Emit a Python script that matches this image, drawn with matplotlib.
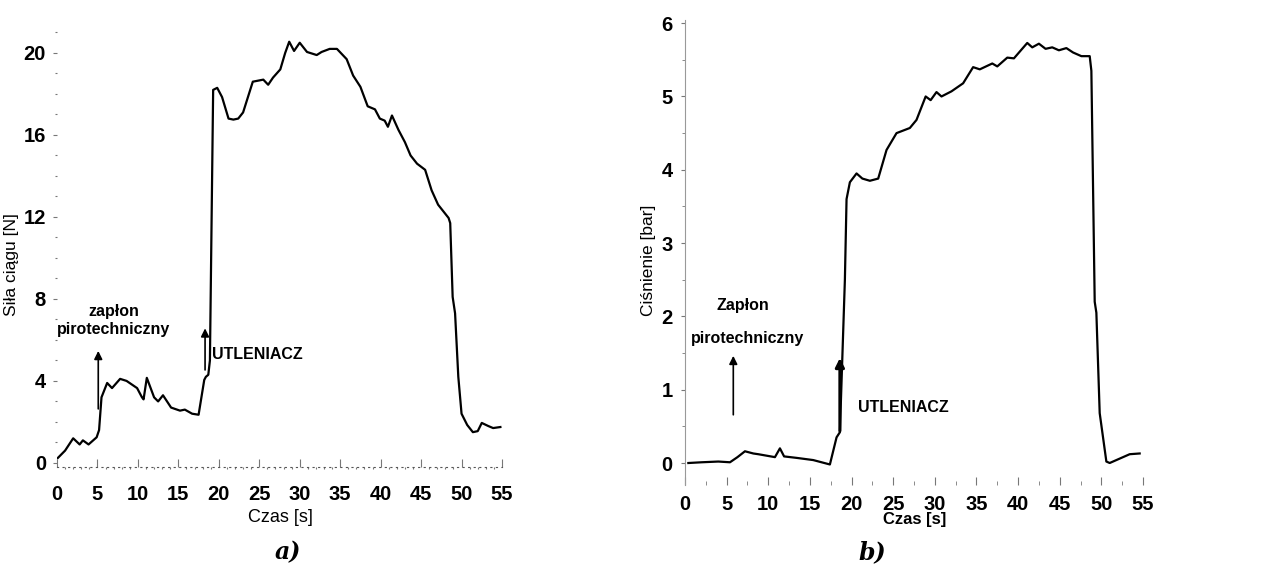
import matplotlib.pyplot as plt
from matplotlib.ticker import MultipleLocator

# a) thrust vs time
t_a = [0.1, 1.0, 2.0, 2.8, 3.2, 3.9, 4.9, 5.2, 5.5, 6.2, 6.8, 7.8, 8.6, 9.9, 10.5, 10.7, 11.1,
       12.0, 12.5, 13.1, 14.1, 15.2, 15.8, 16.7, 17.5, 18.2, 18.4, 18.7, 18.9, 19.3, 19.8, 20.4,
       21.2, 21.8, 22.4, 23.0, 23.6, 24.2, 25.5, 26.1, 26.7, 27.6, 28.2, 28.7, 29.3, 30.0, 30.9,
       32.1, 32.7, 33.7, 34.6, 35.8, 36.6, 37.5, 38.4, 39.3, 39.9, 40.5, 40.9, 41.4, 42.2, 43.0,
       43.7, 44.5, 45.5, 46.3, 47.1, 48.4, 48.6, 48.9, 49.2, 49.6, 50.0, 50.7, 51.4, 52.0, 52.5,
       53.3, 53.9, 54.8]
f_a = [0.24, 0.6, 1.2, 0.9, 1.1, 0.9, 1.25, 1.6, 3.2, 3.9, 3.65, 4.1, 4.0, 3.65, 3.2, 3.1, 4.15,
       3.2, 3.0, 3.3, 2.7, 2.55, 2.6, 2.4, 2.35, 4.05, 4.2, 4.3, 5.0, 18.2, 18.3, 17.85,
       16.8, 16.75, 16.8, 17.1, 17.85, 18.6, 18.7, 18.45, 18.8, 19.2, 20.0, 20.55, 20.1, 20.5, 20.05,
       19.9, 20.05, 20.2, 20.2, 19.7, 18.9, 18.35, 17.4, 17.25, 16.8, 16.7, 16.4, 16.95, 16.25, 15.65,
       15.0, 14.6, 14.3, 13.3, 12.6, 11.95, 11.7, 8.1, 7.3, 4.2, 2.4, 1.85, 1.5, 1.55, 1.95,
       1.8, 1.7, 1.75]

# b) pressure vs time
t_b = [0.4, 2.0, 4.0, 5.4, 6.3, 7.2, 8.2, 8.8, 10.8, 11.4, 11.9, 13.4, 15.4, 17.4, 18.2, 18.6,
       19.2, 19.4, 19.8, 20.6, 21.3, 22.2, 23.2, 24.2, 25.4, 27.0, 27.8, 28.9, 29.5, 30.2, 30.8,
       32.0, 33.4, 34.6, 35.4, 36.9, 37.5, 38.7, 39.5, 41.1, 41.7, 42.5, 43.3, 44.1, 44.9, 45.8,
       46.6, 47.6, 48.6, 48.8, 49.2, 49.4, 49.8, 50.6, 51.0, 52.2, 53.4, 54.6]
p_b = [0.0, 0.01, 0.02, 0.01, 0.08, 0.16, 0.13, 0.12, 0.08, 0.2, 0.09, 0.07, 0.04, -0.02, 0.35, 0.42,
       2.5, 3.6, 3.83, 3.95, 3.88, 3.85, 3.88, 4.27, 4.5, 4.57, 4.68, 5.0, 4.95, 5.06, 5.0,
       5.07, 5.18, 5.4, 5.37, 5.45, 5.41, 5.53, 5.52, 5.73, 5.67, 5.72, 5.65, 5.67, 5.63, 5.66,
       5.6, 5.55, 5.55, 5.35, 2.2, 2.05, 0.68, 0.02, 0.0, 0.06, 0.12, 0.13]

x_ticks = list(range(0, 56, 5))

plt.rcParams['font.family'] = ['Liberation Sans', 'DejaVu Sans']

fig = plt.figure(figsize=(12.79, 5.67), dpi=100)
W, H = 1279, 567

# ---- panel a ----
ax1 = fig.add_axes([57 / W, 1 - 467 / H, 445 / W, (467 - 32.5) / H])
ax1.plot(t_a, f_a, color='black', lw=1.6)
ax1.set_xlim(0, 55)
ax1.set_ylim(-0.2, 21)
ax1.set_xticks(x_ticks)
ax1.set_yticks([0, 4, 8, 12, 16, 20])
ax1.xaxis.set_minor_locator(MultipleLocator(1))
ax1.yaxis.set_minor_locator(MultipleLocator(1))
for s in ['top', 'right', 'left']:
    ax1.spines[s].set_visible(False)
ax1.spines['bottom'].set_linestyle((0, (1, 4)))
ax1.spines['bottom'].set_color('#555555')
ax1.tick_params(axis='both', which='major', labelsize=14.5, color='#777777', width=0.8)
ax1.tick_params(axis='x', which='major', length=6, pad=13, direction='in')
ax1.tick_params(axis='y', which='major', length=3, pad=5)
ax1.tick_params(which='minor', length=1.5, color='#777777', width=0.8)
for lab in ax1.get_xticklabels() + ax1.get_yticklabels():
    lab.set_fontweight('bold')
ax1.set_xlabel('Czas [s]', fontsize=13)
ax1.xaxis.set_label_coords(0.501, -0.097)
ax1.set_ylabel('Siła ciągu [N]', fontsize=12.5)
ax1.yaxis.set_label_coords(-0.086, 0.465)

ax1.annotate('', xy=(5.1, 5.6), xytext=(5.1, 2.5),
             arrowprops=dict(arrowstyle='-|>', color='black', lw=1.2, mutation_scale=12))
ax1.text(7.0, 7.4, 'zapłon', ha='center', va='center', fontsize=11.5, fontweight='bold')
ax1.text(7.0, 6.5, 'pirotechniczny', ha='center', va='center', fontsize=11.5, fontweight='bold')
ax1.annotate('', xy=(18.3, 6.7), xytext=(18.3, 4.4),
             arrowprops=dict(arrowstyle='-|>', color='black', lw=1.2, mutation_scale=12))
ax1.text(19.1, 5.3, 'UTLENIACZ', ha='left', va='center', fontsize=11.5, fontweight='bold')

# ---- panel b ----
ax2 = fig.add_axes([685 / W, 1 - 485 / H, 458 / W, (485 - 19.5) / H])
ax2.plot(t_b, p_b, color='black', lw=1.6)
ax2.set_xlim(0, 55)
ax2.set_ylim(-0.3, 6.05)
ax2.set_xticks(x_ticks)
ax2.set_yticks([0, 1, 2, 3, 4, 5, 6])
ax2.xaxis.set_minor_locator(MultipleLocator(2.5))
ax2.yaxis.set_minor_locator(MultipleLocator(0.5))
for s in ['top', 'right', 'bottom']:
    ax2.spines[s].set_visible(False)
ax2.spines['left'].set_color('#999999')
ax2.spines['left'].set_linewidth(0.8)
ax2.tick_params(axis='both', which='major', labelsize=14.5, color='#777777', width=0.8)
ax2.tick_params(axis='x', which='major', length=6, pad=7, direction='in')
ax2.tick_params(axis='x', which='minor', length=3, direction='in', color='#777777')
ax2.tick_params(axis='y', which='major', length=3, pad=6)
ax2.tick_params(axis='y', which='minor', length=2, color='#777777')
for lab in ax2.get_xticklabels() + ax2.get_yticklabels():
    lab.set_fontweight('bold')
ax2.set_xlabel('Czas [s]', fontsize=12, fontweight='bold')
ax2.xaxis.set_label_coords(0.502, -0.058)
ax2.set_ylabel('Ciśnienie [bar]', fontsize=12.5)
ax2.yaxis.set_label_coords(-0.063, 0.483)

ax2.annotate('', xy=(5.8, 1.5), xytext=(5.8, 0.62),
             arrowprops=dict(arrowstyle='-|>', color='black', lw=1.2, mutation_scale=12))
ax2.text(6.9, 2.15, 'Zapłon', ha='center', va='center', fontsize=11.5, fontweight='bold')
ax2.text(7.5, 1.7, 'pirotechniczny', ha='center', va='center', fontsize=11.5, fontweight='bold')
ax2.annotate('', xy=(18.6, 1.47), xytext=(18.6, 0.4),
             arrowprops=dict(arrowstyle='-|>', color='black', lw=2.2, mutation_scale=13))
ax2.text(20.8, 0.76, 'UTLENIACZ', ha='left', va='center', fontsize=11.5, fontweight='bold')

# panel captions
fig.text(288 / W, 1 - 552 / H, 'a)', ha='center', va='center', fontsize=17,
         fontweight='bold', fontstyle='italic', family='DejaVu Serif')
fig.text(872 / W, 1 - 552 / H, 'b)', ha='center', va='center', fontsize=17,
         fontweight='bold', fontstyle='italic', family='DejaVu Serif')

fig.savefig('out.png', dpi=100)
